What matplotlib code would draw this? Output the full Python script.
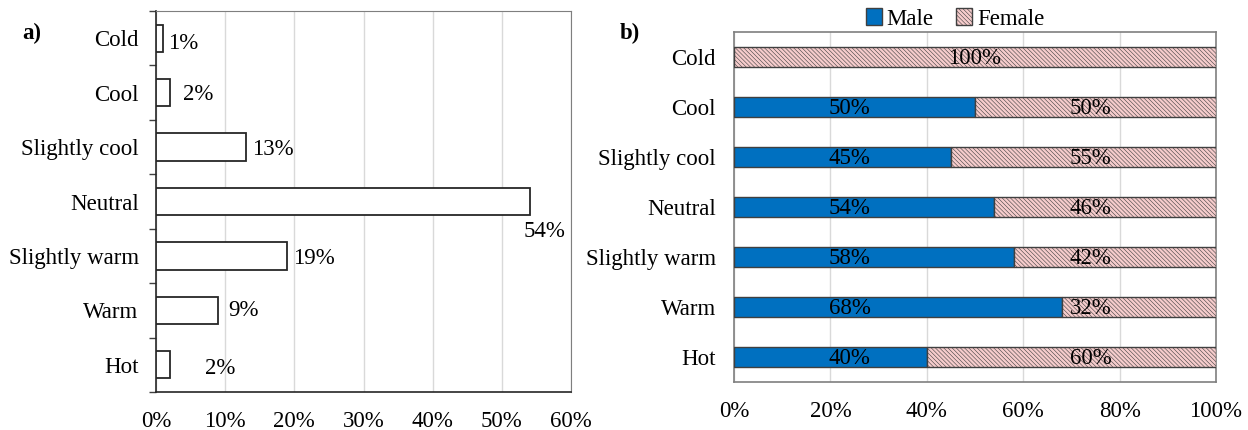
import numpy as np
import matplotlib
matplotlib.use("Agg")
import matplotlib.pyplot as plt
from matplotlib.patches import Patch

# =======================
# DATA
# =======================
categories = ["Cold", "Cool", "Slightly cool", "Neutral", "Slightly warm", "Warm", "Hot"]
overall_pct = [1, 2, 13, 54, 19, 9, 2]
male_pct = [0, 50, 45, 54, 58, 68, 40]
female_pct = [100, 50, 55, 46, 42, 32, 60]

# label offsets for panel a (pixels from bar end), hand-placed like the original
label_dx = [5, 13, 6, 15, 6, 10, 35]
label_dy = [-5, -2, -2, -30, -3, 0, -4]

# =======================
# STYLE
# =======================
plt.rcParams["font.family"] = ["Liberation Serif", "DejaVu Serif"]
plt.rcParams["hatch.linewidth"] = 0.4
plt.rcParams["hatch.color"] = "#e39a9a"
FS = 16.5
male_color = "#0070c0"
female_color = "#f6cccc"
grid_color = "#d9d9d9"
box_color = "#7f7f7f"
HATCH = "\\\\\\\\\\\\\\\\"

fig = plt.figure(figsize=(12.48, 4.30), dpi=100)
y = np.arange(len(categories))

# =======================
# PANEL A
# =======================
ax1 = fig.add_axes([156 / 1248, 38 / 430, 415 / 1248, 381 / 430])
ax1.barh(y, overall_pct, height=0.5, color="white", edgecolor="#262626", linewidth=1.3, zorder=3)
ax1.set_xlim(0, 60)
ax1.set_ylim(6.5, -0.5)
ax1.set_xticks(np.arange(0, 61, 10))
ax1.set_xticklabels([f"{v}%" for v in range(0, 61, 10)], fontsize=FS)
ax1.set_yticks(np.arange(-0.5, 7, 1))
ax1.set_yticklabels([])
ax1.set_yticks(y, minor=True)
ax1.set_yticklabels(categories, minor=True, fontsize=FS)
ax1.tick_params(axis="y", which="major", length=5, width=1, color="#404040", direction="out")
ax1.tick_params(axis="y", which="minor", length=0, pad=12.5)
ax1.tick_params(axis="x", length=0, pad=14)
ax1.grid(axis="x", color=grid_color, linewidth=1, zorder=0)
for side in ["top", "right"]:
    ax1.spines[side].set_color(box_color)
for side in ["left", "bottom"]:
    ax1.spines[side].set_color("#262626")
    ax1.spines[side].set_linewidth(1.2)

for i, v in enumerate(overall_pct):
    ha = "center" if label_dy[i] < -10 else "left"
    ax1.annotate(f"{v}%", xy=(v, i), xytext=(label_dx[i], label_dy[i]),
                 textcoords="offset pixels", ha=ha, va="center", fontsize=FS)

fig.text(22 / 1248, 1 - 33 / 430, "a)", fontsize=FS, fontweight="bold", va="center")

# =======================
# PANEL B
# =======================
ax2 = fig.add_axes([734 / 1248, 48 / 430, 482 / 1248, 350 / 430])
ax2.barh(y, male_pct, height=0.4, color=male_color, edgecolor="#404040", linewidth=1, zorder=3, label="Male")
ax2.barh(y, female_pct, left=male_pct, height=0.4, color=female_color, edgecolor="#404040",
         linewidth=1, hatch=HATCH, zorder=3, label="Female")
ax2.set_xlim(0, 100)
ax2.set_ylim(6.5, -0.5)
ax2.set_xticks(np.arange(0, 101, 20))
ax2.set_xticklabels([f"{v}%" for v in range(0, 101, 20)], fontsize=FS)
ax2.set_yticks(y)
ax2.set_yticklabels(categories, fontsize=FS)
ax2.tick_params(axis="y", length=0, pad=13)
ax2.tick_params(axis="x", length=0, pad=14)
ax2.grid(axis="x", color=grid_color, linewidth=1, zorder=0)
for side in ax2.spines:
    ax2.spines[side].set_color(box_color)
    ax2.spines[side].set_linewidth(1.2)

for i in range(len(categories)):
    if male_pct[i] > 0:
        ax2.text(24, i + 0.03, f"{male_pct[i]}%", ha="center", va="center", fontsize=FS, zorder=4)
        ax2.text(74, i + 0.03, f"{female_pct[i]}%", ha="center", va="center", fontsize=FS, zorder=4)
    else:
        ax2.text(50, i + 0.03, f"{female_pct[i]}%", ha="center", va="center", fontsize=FS, zorder=4)

handles = [Patch(facecolor=male_color, edgecolor="#404040", label="Male"),
           Patch(facecolor=female_color, edgecolor="#404040", hatch=HATCH, label="Female")]
fig.legend(handles=handles, loc="center", bbox_to_anchor=(955 / 1248, 1 - 19 / 430), ncol=2,
           frameon=False, fontsize=FS, handlelength=0.7, handleheight=0.7, handletextpad=0.2,
           columnspacing=1.0)

fig.text(620 / 1248, 1 - 33 / 430, "b)", fontsize=FS, fontweight="bold", va="center")

fig.savefig("out.png", dpi=100)
